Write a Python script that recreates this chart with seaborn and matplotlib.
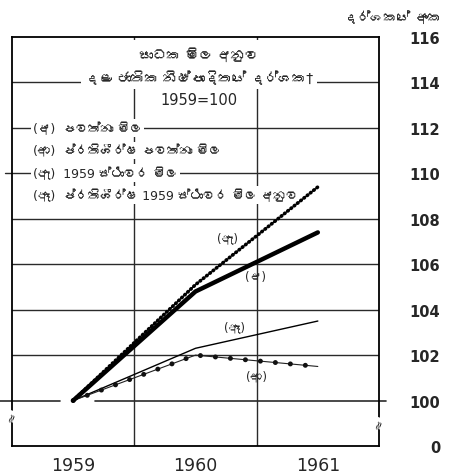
import matplotlib
matplotlib.use("Agg")
import matplotlib.pyplot as plt
import matplotlib.transforms as mtransforms
from matplotlib import font_manager
from matplotlib.ft2font import FT2Font
import seaborn as sns
import pandas as pd

# ---------------- data ----------------
years = [1959, 1960, 1961]
current_prices = [100, 104.8, 107.4]            # (අ)
per_capita_current = [100, 102.0, 101.5]        # (ආ)
constant_1959 = [100, 105.1, 109.4]             # (ඇ)
per_capita_constant = [100, 102.3, 103.5]       # (ඈ)

ytick_values = [98, 100, 102, 104, 106, 108, 110, 112, 114, 116]
ytick_labels = ["0", "100", "102", "104", "106", "108", "110", "112", "114", "116"]
xtick_labels = ["1959", "1960", "1961"]

title_lines = ["සාධක මිල අනුව", "දළ ජාතික නිෂ්පාදිතයේ දර්ශක†", "1959=100"]
legend_rows = ["(අ)  පවත්නා මිල",
               "(ආ)  ප්රතිශීර්ෂ පවත්නා මිල",
               "(ඇ)  1959 ස්ථාවර මිල",
               "(ඈ)  ප්රතිශීර්ෂ 1959 ස්ථාවර මිල අනුව"]
axis_title = "දර්ශකයේ අංක"

# ---------------- fonts ----------------
sns.set_style("white")


def find_font(cp):
    for f in font_manager.fontManager.ttflist:
        try:
            if cp in FT2Font(f.fname).get_charmap():
                return f.name
        except Exception:
            pass
    return None


sin_font = find_font(0x0D85)
families = ["DejaVu Sans"] + ([sin_font] if sin_font else [])
plt.rcParams["font.family"] = families

# ---------------- figure ----------------
W, H = 449, 477
fig = plt.figure(figsize=(W / 100, H / 100), dpi=100)
fig.patch.set_facecolor("white")
ax = fig.add_axes([12 / W, 1 - 447 / H, 367 / W, 409 / H])
ax.set_facecolor("white")
ax.set_xlim(1958.5, 1961.5)
ax.set_ylim(98, 116)

for s in ax.spines.values():
    s.set_color("black")
    s.set_linewidth(1.3)
    s.set_visible(True)

# grid
gcol = "#2a2a2a"
for yv in [102, 104, 106, 108, 110, 112, 114]:
    ax.axhline(yv, color=gcol, lw=1.0, zorder=1)
for xv in [1959.5, 1960.5]:
    ax.axvline(xv, color=gcol, lw=1.0, zorder=1)
blend = mtransforms.blended_transform_factory(ax.transAxes, ax.transData)
ax.plot([-0.035, 0.13], [100, 100], color=gcol, lw=1.2, transform=blend, clip_on=False, zorder=1)
ax.plot([0.225, 1.02], [100, 100], color=gcol, lw=1.2, transform=blend, clip_on=False, zorder=1)
ax.plot([-0.02, 0.0], [110, 110], color=gcol, lw=1.0, transform=blend, clip_on=False, zorder=1)

# ---------------- series ----------------
df = pd.DataFrame({"year": years, "a": current_prices, "aa": per_capita_current,
                   "ae": constant_1959, "aae": per_capita_constant})

sns.lineplot(data=df, x="year", y="ae", ax=ax, color="black", linewidth=2.6,
             linestyle=(0, (0.2, 0.95)), dash_capstyle="round", legend=False, zorder=4)
sns.lineplot(data=df, x="year", y="a", ax=ax, color="black", linewidth=3.2,
             legend=False, zorder=5)
sns.lineplot(data=df, x="year", y="aae", ax=ax, color="black", linewidth=1.0,
             legend=False, zorder=4)
sns.lineplot(data=df, x="year", y="aa", ax=ax, color="#222222", linewidth=0.8,
             legend=False, zorder=4)
sns.lineplot(data=df, x="year", y="aa", ax=ax, color="#111111", linewidth=3.6,
             linestyle=(0, (0.01, 3.0)), dash_capstyle="round", legend=False, zorder=4)

# ---------------- ticks ----------------
ax.set_xticks(years)
ax.set_xticklabels(xtick_labels, fontsize=12.5)
ax.tick_params(axis="x", length=0, pad=7)
ax.yaxis.tick_right()
ax.set_yticks(ytick_values)
ax.set_yticklabels(ytick_labels, fontsize=10.5, fontweight="bold")
ax.tick_params(axis="y", length=0, pad=44)
for t in ax.get_yticklabels():
    t.set_ha("right")
ax.set_xlabel("")
ax.set_ylabel("")

# ---------------- texts ----------------
wb = dict(facecolor="white", edgecolor="none", pad=1.5)
ax.text(1960.03, 115.25, title_lines[0], ha="center", va="center", fontsize=10,
        bbox=dict(facecolor="white", edgecolor="none", pad=5), zorder=6)
ax.text(1960.03, 114.2, title_lines[1], ha="center", va="center", fontsize=10,
        bbox=dict(facecolor="white", edgecolor="none", pad=3), zorder=6)
ax.text(1960.03, 113.27, title_lines[2], ha="center", va="center", fontsize=10.5,
        bbox=dict(facecolor="white", edgecolor="none", pad=2), zorder=6)

legend_y = [112.0, 111.0, 110.0, 109.05]
for txt, yv in zip(legend_rows, legend_y):
    ax.text(1958.67, yv, txt, ha="left", va="center", fontsize=9, bbox=wb, zorder=3)

ax.text(1960.26, 107.16, "(ඇ)", ha="center", va="center", fontsize=8.5, zorder=6)
ax.text(1960.49, 105.5, "(අ)", ha="center", va="center", fontsize=8.5, zorder=6)
ax.text(1960.32, 103.25, "(ඈ)", ha="center", va="center", fontsize=8.5, zorder=6)
ax.text(1960.50, 101.1, "(ආ)", ha="center", va="center", fontsize=8.5, zorder=6)

# axis break marks
ax.text(0.0, 99.3, "≈", transform=blend, ha="center", va="center", fontsize=9,
        rotation=70, bbox=dict(facecolor="white", edgecolor="none", pad=0.3), zorder=7, clip_on=False)
ax.text(1.0, 99.0, "≈", transform=blend, ha="center", va="center", fontsize=9,
        rotation=70, bbox=dict(facecolor="white", edgecolor="none", pad=0.3), zorder=7, clip_on=False)

fig.text(441 / W, 1 - 18 / H, axis_title, ha="right", va="center", fontsize=9.5,
         fontweight="bold")

fig.savefig("out.png", dpi=100, facecolor="white")
